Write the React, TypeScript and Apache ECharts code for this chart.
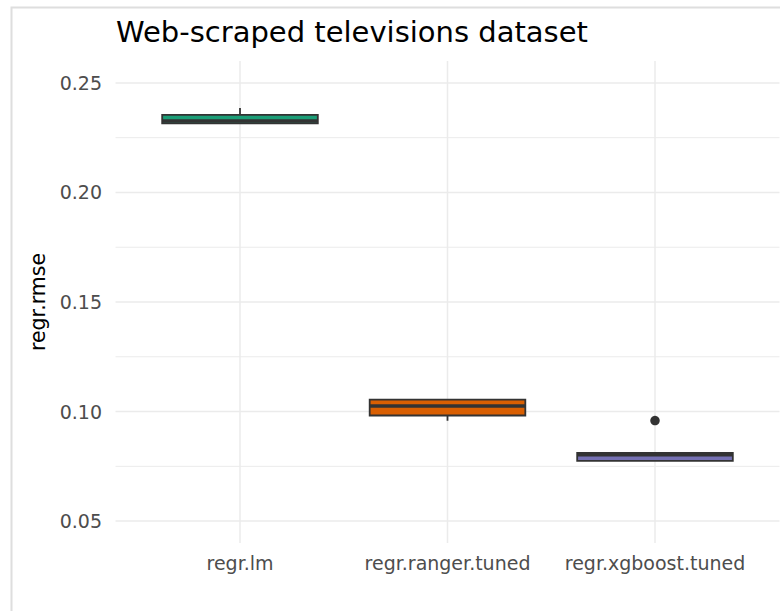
import React, { useEffect, useRef } from "react";
import * as echarts from "echarts";

// Cross-validated RMSE per learner (box summary statistics)
const models = ["regr.lm", "regr.ranger.tuned", "regr.xgboost.tuned"];
const whiskerLow = [0.2313, 0.0958, 0.0774];
const quart1 = [0.2315, 0.0982, 0.0775];
const medians = [0.2326, 0.1025, 0.0803];
const quart3 = [0.2354, 0.1054, 0.0811];
const whiskerHigh = [0.2385, 0.1054, 0.0811];
// [model position, value]
const outliers = [[3, 0.0959]];

const boxColors = ["#1B9E77", "#D95F02", "#7570B3"];
const yMajor = [0.05, 0.1, 0.15, 0.2, 0.25];
const yMinor = [0.075, 0.125, 0.175, 0.225];
const xPositions = [1, 2, 3];

const X_MIN = 0.4;
const X_MAX = 3.6;
const Y_MIN = 0.04;
const Y_MAX = 0.26;
const BOX_WIDTH = 0.75;
const INK = "#333333";
const GRID = "#EBEBEB";
const FONT = "DejaVu Sans";

export default function App() {
  const ref = useRef<HTMLDivElement>(null);

  useEffect(() => {
    if (!ref.current) return;
    const chart = echarts.init(ref.current, null, { renderer: "svg" });

    const boxData = models.map((_, i) => [
      xPositions[i],
      whiskerLow[i],
      quart1[i],
      medians[i],
      quart3[i],
      whiskerHigh[i],
    ]);

    const hGrid = [
      ...yMinor.map((v) => [X_MIN, v, 0]),
      ...yMajor.map((v) => [X_MIN, v, 1]),
    ];
    const vGrid = xPositions.map((x) => [x, Y_MIN]);

    chart.setOption({
      animation: false,
      backgroundColor: "#ffffff",
      title: {
        text: "Web-scraped televisions dataset",
        left: 116,
        top: 17,
        padding: 0,
        textStyle: {
          fontFamily: FONT,
          fontSize: 29,
          fontWeight: "normal",
          color: "#000000",
        },
      },
      graphic: [
        {
          type: "polyline",
          silent: true,
          shape: { points: [[11.5, 611], [11.5, 7.5], [780, 7.5]] },
          style: { stroke: "#dedede", lineWidth: 2, fill: "none" },
        },
      ],
      grid: { left: 115.5, right: 0.5, top: 61, bottom: 68 },
      xAxis: {
        type: "value",
        min: X_MIN,
        max: X_MAX,
        axisLine: { show: false },
        axisTick: { show: false, customValues: xPositions },
        splitLine: { show: false },
        axisLabel: {
          customValues: xPositions,
          formatter: (v: number) => models[Math.round(v) - 1] ?? "",
          margin: 10,
          fontFamily: FONT,
          fontSize: 19,
          color: "#4D4D4D",
        },
      },
      yAxis: {
        type: "value",
        min: Y_MIN,
        max: Y_MAX,
        name: "regr.rmse",
        nameLocation: "middle",
        nameRotate: 90,
        nameGap: 64,
        nameTextStyle: { fontFamily: FONT, fontSize: 20.5, color: "#000000" },
        axisLine: { show: false },
        axisTick: { show: false, customValues: yMajor },
        splitLine: { show: false },
        axisLabel: {
          customValues: yMajor,
          formatter: (v: number) => v.toFixed(2),
          margin: 13.5,
          fontFamily: FONT,
          fontSize: 19,
          color: "#4D4D4D",
        },
      },
      series: [
        {
          type: "custom",
          name: "h-grid",
          silent: true,
          z: 0,
          data: hGrid,
          encode: { x: 0, y: 1 },
          renderItem: (params: any, api: any) => {
            const v = api.value(1);
            const major = api.value(2) === 1;
            const a = api.coord([X_MIN, v]);
            const b = api.coord([X_MAX, v]);
            return {
              type: "line",
              shape: { x1: a[0], y1: a[1], x2: b[0], y2: b[1] },
              style: { stroke: GRID, lineWidth: major ? 1.5 : 1 },
            };
          },
        },
        {
          type: "custom",
          name: "v-grid",
          silent: true,
          z: 0,
          data: vGrid,
          encode: { x: 0, y: 1 },
          renderItem: (params: any, api: any) => {
            const x = api.value(0);
            const a = api.coord([x, Y_MIN]);
            const b = api.coord([x, Y_MAX]);
            return {
              type: "line",
              shape: { x1: a[0], y1: a[1], x2: b[0], y2: b[1] },
              style: { stroke: GRID, lineWidth: 1.5 },
            };
          },
        },
        {
          type: "custom",
          name: "boxes",
          z: 2,
          data: boxData,
          encode: { x: 0, y: [1, 2, 3, 4, 5] },
          renderItem: (params: any, api: any) => {
            const x = api.value(0);
            const lo = api.value(1);
            const q1 = api.value(2);
            const med = api.value(3);
            const q3 = api.value(4);
            const hi = api.value(5);
            const half = BOX_WIDTH / 2;
            const tl = api.coord([x - half, q3]);
            const br = api.coord([x + half, q1]);
            const mL = api.coord([x - half, med]);
            const mR = api.coord([x + half, med]);
            const pHi = api.coord([x, hi]);
            const pQ3 = api.coord([x, q3]);
            const pQ1 = api.coord([x, q1]);
            const pLo = api.coord([x, lo]);
            const color = boxColors[params.dataIndex % boxColors.length];
            return {
              type: "group",
              children: [
                {
                  type: "line",
                  shape: { x1: pHi[0], y1: pHi[1], x2: pQ3[0], y2: pQ3[1] },
                  style: { stroke: INK, lineWidth: 1.8 },
                },
                {
                  type: "line",
                  shape: { x1: pQ1[0], y1: pQ1[1], x2: pLo[0], y2: pLo[1] },
                  style: { stroke: INK, lineWidth: 1.8 },
                },
                {
                  type: "rect",
                  shape: {
                    x: tl[0],
                    y: tl[1],
                    width: br[0] - tl[0],
                    height: br[1] - tl[1],
                  },
                  style: { fill: color, stroke: INK, lineWidth: 1.8 },
                },
                {
                  type: "line",
                  shape: { x1: mL[0], y1: mL[1], x2: mR[0], y2: mR[1] },
                  style: { stroke: INK, lineWidth: 3.6 },
                },
              ],
            };
          },
        },
        {
          type: "scatter",
          name: "outliers",
          z: 3,
          data: outliers,
          symbol: "circle",
          symbolSize: 9.5,
          itemStyle: { color: INK, opacity: 1 },
          silent: true,
        },
      ],
    });

    return () => chart.dispose();
  }, []);

  return <div ref={ref} style={{ width: 780, height: 611, position: "absolute", left: 0, top: 0 }} />;
}
